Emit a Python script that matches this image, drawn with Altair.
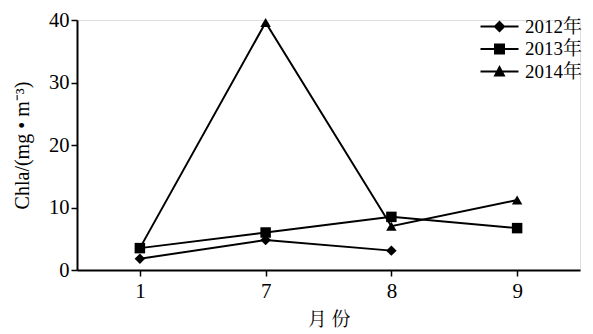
import altair as alt
import pandas as pd

months = ["1", "7", "8", "9"]
years = ["2012年", "2013年", "2014年"]
v2012 = [1.8, 4.8, 3.1, None]
v2013 = [3.5, 6.0, 8.5, 6.7]
v2014 = [3.5, 39.6, 7.0, 11.2]

rows = []
for yr, vals in zip(years, [v2012, v2013, v2014]):
    for m, v in zip(months, vals):
        if v is not None:
            rows.append({"month": m, "year": yr, "value": v})
df = pd.DataFrame(rows)

FONT = "Liberation Serif, Noto Serif CJK SC, Noto Sans CJK SC"

legend_paths = [
    "M-3.8,-0.2H3.8V0.2H-3.8Z M0,-1.2L1.2,0L0,1.2L-1.2,0Z",
    "M-3.8,-0.2H3.8V0.2H-3.8Z M-1.1,-1.1H1.1V1.1H-1.1Z",
    "M-3.8,-0.2H3.8V0.2H-3.8Z M0,-1.3L1.2,1.0H-1.2Z",
]

x = alt.X("month:O", sort=months, title="月 份",
          scale=alt.Scale(type="point", padding=0.5),
          axis=alt.Axis(labelAngle=0, labelFontSize=21, titleFontSize=19,
                        labelPadding=4, titlePadding=9, tickSize=6,
                        domainColor="black", tickColor="black", domainWidth=2, tickWidth=1.5,
                        labelColor="black", titleColor="black", titleFontWeight="normal"))
y = alt.Y("value:Q", title="Chla/(mg • m⁻³)",
          scale=alt.Scale(domain=[0, 40], nice=False),
          axis=alt.Axis(values=[0, 10, 20, 30, 40], labelFontSize=20.5, titleFontSize=20,
                        labelPadding=2, titlePadding=16, tickSize=6, grid=False,
                        domainColor="black", tickColor="black", domainWidth=2, tickWidth=1.5,
                        labelColor="black", titleColor="black", titleFontWeight="normal"))

base = alt.Chart(df)
lines = base.mark_line(color="black", strokeWidth=2).encode(
    x=x, y=y, detail="year:N")
points = base.mark_point(filled=True, color="black", size=110, opacity=1).encode(
    x=x, y=y,
    shape=alt.Shape("year:N", scale=alt.Scale(domain=years, range=["diamond", "square", "triangle-up"]),
                    legend=None),
)
legend_layer = base.transform_calculate(lbl="datum.year").mark_point(
    filled=True, color="black", size=100, opacity=0).encode(
    x=x, y=y,
    shape=alt.Shape("lbl:N", scale=alt.Scale(domain=years, range=legend_paths),
                    legend=alt.Legend(title=None, orient="none", legendX=413, legendY=-3,
                                      symbolSize=100, labelOffset=16, labelFontSize=19,
                                      labelFont=FONT, labelColor="black", rowPadding=2.5,
                                      symbolFillColor="black", symbolStrokeColor="black",
                                      symbolStrokeWidth=0, symbolOpacity=1, padding=0)),
)

chart = (lines + points + legend_layer).resolve_scale(shape="independent").properties(
    width=503, height=250,
    padding={"left": 69, "top": 12, "right": 5, "bottom": 64},
    autosize=alt.AutoSizeParams(type="none"),
).configure_view(stroke=None).configure(font=FONT).configure_axis(labelFont=FONT, titleFont=FONT)

chart.save("out.html", embed_options={"renderer": "svg", "actions": False})
